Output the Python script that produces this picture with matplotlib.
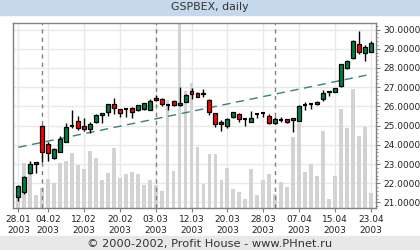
import numpy as np
import matplotlib
matplotlib.use('Agg')
import matplotlib.pyplot as plt
from matplotlib.patches import Rectangle

# GSPBEX daily candles, 28.01.2003 - 23.04.2003
opens = [21.26, 21.56, 22.51, 22.99, 25.00, 24.04, 23.30, 23.63, 24.16, 25.00,
         25.24, 24.98, 24.80, 25.20, 25.55, 25.69, 26.11, 25.85, 25.85, 25.93,
         25.81, 25.86, 25.80, 26.42, 26.37, 26.05, 26.28, 26.06, 26.23, 26.82,
         26.71, 26.63, 26.33, 25.64, 25.19, 24.99, 25.43, 25.59, 25.32, 25.20,
         25.58, 25.63, 25.52, 25.12, 25.29, 25.33, 25.28, 25.25, 26.07, 26.12,
         26.11, 26.37, 26.80, 26.76, 27.08, 28.01, 28.53, 29.23, 28.79, 28.85]
closes = [21.86, 22.34, 22.99, 23.09, 23.60, 23.56, 23.77, 24.28, 24.95, 25.00,
          24.89, 24.80, 25.08, 25.54, 25.64, 26.11, 25.90, 25.64, 25.85, 25.72,
          26.05, 26.16, 26.28, 26.32, 26.11, 26.05, 26.06, 26.19, 26.58, 26.64,
          26.50, 26.68, 25.72, 25.10, 25.06, 25.33, 25.69, 25.32, 25.32, 25.42,
          25.58, 25.63, 25.15, 25.33, 25.29, 25.20, 25.38, 26.02, 26.07, 26.12,
          26.24, 26.68, 26.76, 26.94, 28.19, 28.36, 29.42, 28.81, 29.07, 29.30]
highs = [21.91, 22.37, 23.17, 23.10, 25.02, 24.17, 23.83, 24.46, 25.14, 25.81,
         25.50, 25.40, 25.19, 25.59, 25.66, 26.12, 26.42, 25.86, 25.90, 25.97,
         26.07, 26.20, 26.37, 26.59, 26.42, 26.07, 26.33, 26.99, 26.64, 26.94,
         26.75, 26.89, 26.38, 25.66, 25.29, 25.41, 25.73, 25.63, 25.37, 25.76,
         25.68, 25.73, 25.60, 25.43, 25.46, 25.33, 25.40, 26.05, 26.24, 26.19,
         26.28, 26.85, 26.80, 26.97, 28.20, 28.41, 29.45, 29.92, 29.19, 29.40]
lows = [21.08, 21.44, 22.49, 22.55, 23.11, 23.16, 23.27, 23.60, 24.15, 24.90,
        24.75, 24.72, 24.61, 25.15, 25.15, 25.52, 25.59, 25.47, 25.43, 25.38,
        25.76, 25.81, 25.79, 26.28, 26.02, 25.81, 26.02, 26.02, 26.22, 26.37,
        26.49, 26.47, 25.55, 24.94, 24.73, 24.86, 25.40, 25.21, 25.00, 25.19,
        25.40, 25.43, 25.08, 25.08, 25.20, 25.12, 24.67, 25.23, 25.81, 25.85,
        26.07, 26.30, 26.54, 26.73, 27.02, 27.93, 28.47, 28.71, 28.38, 28.81]
volumes = [18, 45, 38, 13, 20, 29, 25, 45, 47, 55,
           43, 39, 57, 50, 28, 35, 60, 30, 34, 36,
           34, 23, 28, 23, 17, 108, 37, 190, 117, 125,
           61, 24, 54, 54, 28, 40, 19, 16, 9, 39,
           13, 28, 34, 14, 26, 21, 71, 85, 36, 44,
           32, 77, 9, 32, 99, 80, 119, 72, 81, 15]
vol_top = 185

# straight dashed trend line, first and last bar
trend_ends = [23.87, 27.67]

tick_idx = [0, 5, 11, 17, 23, 29, 35, 41, 47, 53, 59]
tick_labels = ['28.01\n2003', '04.02\n2003', '12.02\n2003', '20.02\n2003',
               '03.03\n2003', '12.03\n2003', '20.03\n2003', '28.03\n2003',
               '07.04\n2003', '15.04\n2003', '23.04\n2003']
month_starts = [4, 23, 43]
price_ticks = [21, 22, 23, 24, 25, 26, 27, 28, 29, 30]

n = len(opens)
idx = np.arange(n)

fig = plt.figure(figsize=(4.2, 2.5), dpi=100)
fig.patch.set_facecolor('white')

# header / footer bands
fig.patches.append(Rectangle((0, 0.94), 1, 0.06, transform=fig.transFigure,
                             color='#c6d9ec', zorder=0))
fig.patches.append(Rectangle((0, 0), 1, 0.056, transform=fig.transFigure,
                             color='#e8e8e8', zorder=0))
fig.text(0.5, 0.971, 'GSPBEX, daily', ha='center', va='center',
         fontsize=7.9, color='#333333')
fig.text(0.5, 0.026, '\u00a9 2000-2002, Profit House - www.PHnet.ru',
         ha='center', va='center', fontsize=8.2, color='#333333')

ax = fig.add_axes([13 / 420, 1 - 208 / 250, 363 / 420, 185 / 250])
ax.set_xlim(-0.89, 59.89)
ax.set_ylim(20.71, 30.34)

# grid
for t in price_ticks:
    ax.axhline(t, color='#e8e8e8', lw=1, zorder=0)
for t in tick_idx:
    ax.axvline(t, color='#e8e8e8', lw=1, zorder=0)

# volume bars (axes-fraction height)
ax.bar(idx, np.array(volumes) / vol_top, width=0.62, bottom=0,
       color='#d3d3d3', transform=ax.get_xaxis_transform(), zorder=1)

# month separators
for m in month_starts:
    ax.axvline(m, color='#808080', lw=1, ls=(0, (3, 3)), zorder=2)

# trend line
ax.plot([0, n - 1], trend_ends, color='#3a8080', lw=1, ls=(0, (6, 4)), zorder=2)

# candles
ax.vlines(idx, lows, highs, color='black', lw=1, zorder=3)
for i in range(n):
    o, c = opens[i], closes[i]
    if abs(c - o) < 0.01:
        ax.hlines(o, i - 0.33, i + 0.33, color='black', lw=1.5, zorder=4)
        continue
    col = '#008040' if c > o else '#ff0000'
    ax.add_patch(Rectangle((i - 0.33, min(o, c)), 0.66, abs(c - o),
                           facecolor=col, edgecolor='black', lw=0.9, zorder=4))

for s in ax.spines.values():
    s.set_color('#808080')
    s.set_linewidth(1)

ax.set_xticks(tick_idx)
ax.set_xticklabels(tick_labels, fontsize=6.5, linespacing=1.25)
ax.yaxis.tick_right()
ax.set_yticks(price_ticks)
ax.set_yticklabels(['%.4f' % t for t in price_ticks], fontsize=6.5)
ax.set_yticks(np.arange(20.8, 30.34, 0.2), minor=True)
ax.tick_params(axis='both', which='major', length=3, color='#808080',
               labelcolor='#222222', pad=2)
ax.tick_params(axis='y', which='minor', length=1.5, color='#808080')

fig.savefig('out.png', dpi=100)
